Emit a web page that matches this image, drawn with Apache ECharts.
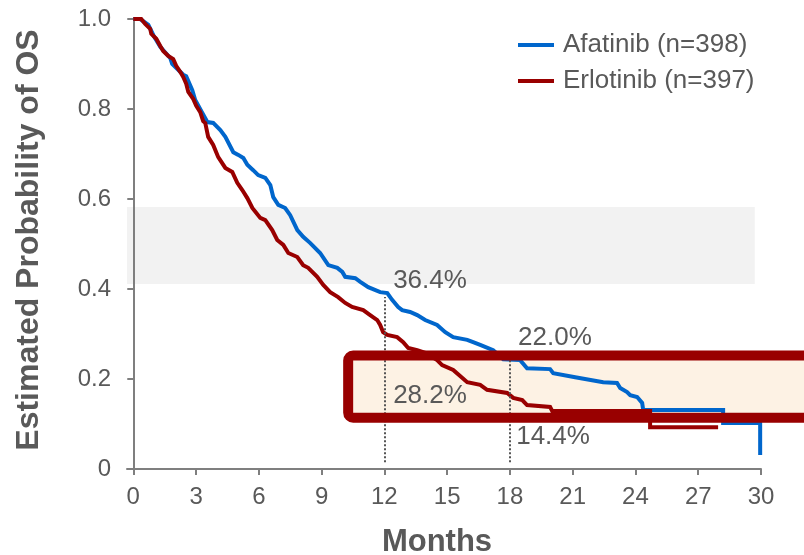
<!DOCTYPE html>
<html><head><meta charset="utf-8">
<script src="https://cdn.jsdelivr.net/npm/echarts@6/dist/echarts.min.js"></script>
<style>html,body{margin:0;padding:0;background:#fff}#c{width:804px;height:555px}</style>
</head><body><div id="c"></div>
<script>
// ---- data (curve vertices) ----
const afatinibMonths = [0.00,0.33,0.72,0.96,1.29,1.77,1.86,2.39,2.53,2.82,2.96,3.30,3.54,3.82,4.16,4.40,4.78,5.02,5.26,5.45,5.73,5.97,6.31,6.55,6.69,6.93,7.26,7.50,7.84,8.12,8.46,8.93,9.32,9.75,9.99,10.13,10.61,10.85,11.23,11.80,12.14,12.37,12.66,12.85,13.23,13.57,13.95,14.52,14.91,15.29,15.96,16.24,16.58,17.20,17.68,18.49,18.82,19.92,20.07,21.12,22.46,23.12,23.27,23.60,23.75,24.08,24.32,24.37,28.19,28.19,29.96,29.96];
const afatinibSurv = [1.000,1.000,0.987,0.964,0.938,0.913,0.900,0.876,0.873,0.842,0.820,0.791,0.771,0.769,0.753,0.738,0.704,0.698,0.691,0.676,0.664,0.653,0.647,0.631,0.604,0.587,0.580,0.564,0.531,0.516,0.502,0.480,0.453,0.447,0.438,0.427,0.424,0.416,0.404,0.393,0.391,0.376,0.360,0.353,0.349,0.342,0.331,0.320,0.304,0.293,0.287,0.282,0.276,0.264,0.244,0.242,0.224,0.222,0.213,0.204,0.193,0.191,0.180,0.171,0.164,0.160,0.147,0.131,0.131,0.102,0.102,0.031];
const erlotinibMonths = [0.00,0.38,0.57,0.81,0.86,1.10,1.29,1.43,1.67,1.91,2.05,2.25,2.39,2.53,2.63,2.87,3.01,3.20,3.34,3.44,3.58,3.82,4.06,4.40,4.73,4.97,5.21,5.45,5.69,6.07,6.31,6.64,6.88,7.17,7.41,7.84,8.12,8.36,8.79,9.08,9.41,9.79,10.13,10.46,10.99,11.32,11.66,11.80,11.94,12.14,12.61,12.90,13.14,13.57,13.95,14.52,14.76,15.29,15.96,16.58,16.91,17.87,18.16,18.59,18.82,19.92,20.02,24.70,24.70,27.95];
const erlotinibSurv = [1.000,1.000,0.989,0.978,0.967,0.956,0.940,0.929,0.918,0.911,0.896,0.882,0.871,0.856,0.838,0.822,0.807,0.793,0.773,0.769,0.738,0.720,0.693,0.669,0.660,0.636,0.620,0.602,0.580,0.558,0.553,0.531,0.509,0.498,0.480,0.471,0.453,0.447,0.427,0.409,0.393,0.382,0.369,0.360,0.353,0.342,0.331,0.320,0.304,0.298,0.293,0.282,0.269,0.264,0.258,0.242,0.231,0.220,0.193,0.187,0.176,0.169,0.158,0.153,0.142,0.138,0.129,0.129,0.093,0.093];
const seriesNames = ["Afatinib (n=398)", "Erlotinib (n=397)"];
const xTicks = [0,3,6,9,12,15,18,21,24,27,30];
const milestoneMonths = [12, 18];
const milestoneTop = [0.382, 0.242];
const milestoneLabels = ["36.4%", "22.0%", "28.2%", "14.4%"];
const milestoneLabelPos = [[12.42, 0.418], [18.39, 0.291], [12.42, 0.162], [18.30, 0.071]];
const bandRange = { x: [-0.3, 29.7], y: [0.411, 0.582] };
const boxRange = { x: [10.27, 33], y: [0.114, 0.252] };

const BLUE = '#0066CC', RED = '#990000', TXT = '#595959', AX = '#7f7f7f';
const FONT = '"Liberation Sans", Arial, sans-serif';

const chart = echarts.init(document.getElementById('c'), null, { renderer: 'canvas' });
const zip = (a, b) => a.map((v, i) => [v, b[i]]);

chart.setOption({
  animation: false,
  textStyle: { fontFamily: FONT },
  grid: { left: 127, right: 43, top: 19, bottom: 86, containLabel: false, outerBoundsMode: 'none' },
  legend: {
    left: 513, top: 27, orient: 'vertical', icon: 'rect',
    itemWidth: 36, itemHeight: 4, itemGap: 10,
    textStyle: { fontSize: 26, color: TXT, fontFamily: FONT, padding: [0, 0, 0, 4] },
    data: seriesNames
  },
  xAxis: {
    type: 'value', min: -0.3, max: 30,
    name: 'Months', nameLocation: 'middle', nameGap: 58,
    nameTextStyle: { fontSize: 31, fontWeight: 'bold', color: TXT, fontFamily: FONT, padding: [0, 14, 0, 0] },
    axisLine: { lineStyle: { color: AX, width: 2 } },
    axisTick: { show: true, length: 6, lineStyle: { color: AX, width: 2 }, customValues: xTicks },
    axisLabel: { fontSize: 24, color: TXT, margin: 16, customValues: xTicks, formatter: v => String(v) },
    splitLine: { show: false }
  },
  yAxis: {
    type: 'value', min: 0, max: 1, interval: 0.2,
    name: 'Estimated Probability of OS', nameLocation: 'middle', nameGap: 82,
    nameTextStyle: { fontSize: 32, fontWeight: 'bold', color: TXT, fontFamily: FONT, padding: [0, 0, 0, 8] },
    axisLine: { show: true, lineStyle: { color: AX, width: 2 } },
    axisTick: { show: true, length: 6, lineStyle: { color: AX, width: 2 } },
    axisLabel: { fontSize: 24, color: TXT, margin: 16, formatter: v => v === 0 ? '0' : v.toFixed(1) },
    splitLine: { show: false }
  },
  series: [
    {
      name: seriesNames[0], type: 'line', showSymbol: false, z: 3,
      color: BLUE, lineStyle: { width: 4, color: BLUE, join: 'miter' },
      data: zip(afatinibMonths, afatinibSurv),
      markLine: {
        silent: true, symbol: ['none', 'none'], label: { show: false },
        lineStyle: { type: 'dotted', color: '#555', width: 2 },
        data: milestoneMonths.map((m, i) => [{ coord: [m, 0.015] }, { coord: [m, milestoneTop[i]] }])
      }
    },
    {
      name: seriesNames[1], type: 'line', showSymbol: false, z: 4,
      color: RED, lineStyle: { width: 4, color: RED, join: 'miter' },
      data: zip(erlotinibMonths, erlotinibSurv)
    }
  ]
});

function px(x, y) { return chart.convertToPixel({ gridIndex: 0 }, [x, y]); }
const b0 = px(bandRange.x[0], bandRange.y[1]), b1 = px(bandRange.x[1], bandRange.y[0]);
const k0 = px(boxRange.x[0], boxRange.y[1]), k1 = px(boxRange.x[1], boxRange.y[0]);
const graphics = [
  { type: 'rect', z: -10, silent: true, shape: { x: b0[0], y: b0[1], width: b1[0] - b0[0], height: b1[1] - b0[1] }, style: { fill: '#f2f2f2' } },
  { type: 'rect', z: -9, silent: true, shape: { x: k0[0], y: k0[1], width: k1[0] - k0[0], height: k1[1] - k0[1], r: 5 }, style: { fill: '#fdf2e4' } },
  { type: 'rect', z: 50, silent: true, shape: { x: k0[0], y: k0[1], width: k1[0] - k0[0], height: k1[1] - k0[1], r: 5 }, style: { fill: null, stroke: RED, lineWidth: 10 } }
];
milestoneLabels.forEach((t, i) => {
  const p = px(milestoneLabelPos[i][0], milestoneLabelPos[i][1]);
  graphics.push({ type: 'text', z: 60, silent: true, x: p[0], y: p[1],
    style: { text: t, fill: TXT, font: '26px ' + FONT, textAlign: 'left', textVerticalAlign: 'middle', verticalAlign: 'middle' } });
});
chart.setOption({ graphic: graphics });
</script>
</body></html>
